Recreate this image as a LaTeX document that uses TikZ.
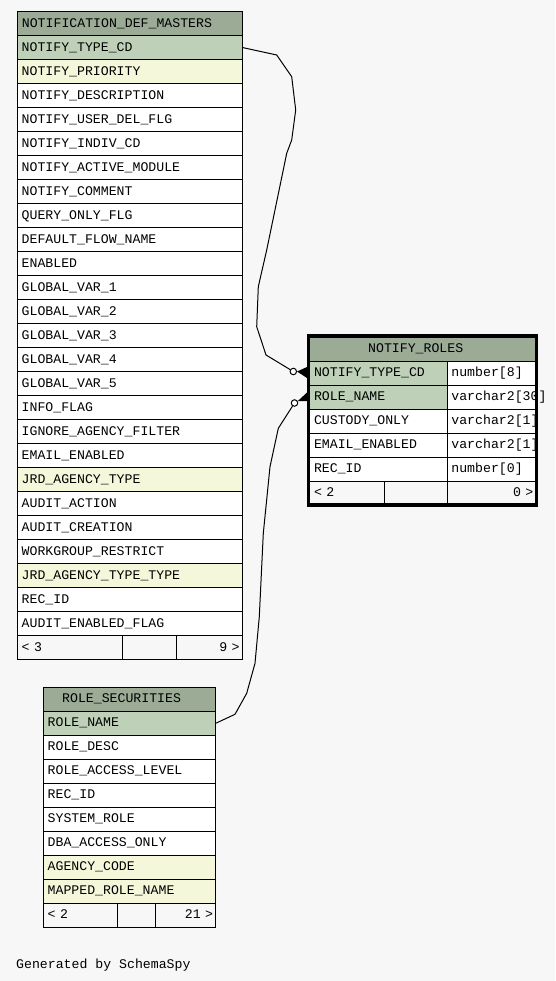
\documentclass[tikz,border=0pt]{standalone}
\usepackage{fontspec}
\usepackage{xcolor}
\usetikzlibrary{positioning,fit,calc}
\newfontfamily\erdmono{Liberation Mono}
\newcommand\erdtext{\erdmono\fontsize{13.2pt}{15pt}\selectfont}
\definecolor{bggray}{HTML}{F7F7F7}
\definecolor{hdrgreen}{HTML}{9BAB96}
\definecolor{pkgreen}{HTML}{BED1B8}
\definecolor{idxyellow}{HTML}{F4F7DA}

\begin{document}
\begin{tikzpicture}[
  x=1pt, y=-1pt, font=\erdtext,
  cell/.style={draw, line width=1pt, anchor=north west, outer sep=0pt,
               minimum height=24pt, inner ysep=0pt, inner xsep=4.4pt,
               align=left, text height=9.8pt, text depth=2.6pt},
  hdr/.style={cell, fill=hdrgreen},
  pk/.style={cell, fill=pkgreen},
  idx/.style={cell, fill=idxyellow},
  std/.style={cell, fill=white},
  foot/.style={cell, fill=bggray},
  footr/.style={foot, align=right, inner xsep=2.7pt},
  ttl/.style={anchor=west, inner sep=0pt, text height=9.8pt, text depth=2.6pt},
  odot/.style={circle, draw, fill=white, line width=1pt, inner sep=0pt,
               minimum size=6.5pt},
  link/.style={line width=1pt}
]
\useasboundingbox (0,0) rectangle (555,981);
\fill[bggray] (0,0) rectangle (555,981);

% --- NOTIFICATION_DEF_MASTERS ------------------------------------------
\node[hdr, minimum width=225pt] (ndm-h) at (17.3,11.5) {};
\node[ttl] (ndm-title) at ($(ndm-h.west)+(4.4,0)$) {NOTIFICATION\_DEF\_MASTERS};
\foreach \col/\kind [count=\i] in {
    NOTIFY\_TYPE\_CD/pk, NOTIFY\_PRIORITY/idx, NOTIFY\_DESCRIPTION/std,
    NOTIFY\_USER\_DEL\_FLG/std, NOTIFY\_INDIV\_CD/std, NOTIFY\_ACTIVE\_MODULE/std,
    NOTIFY\_COMMENT/std, QUERY\_ONLY\_FLG/std, DEFAULT\_FLOW\_NAME/std,
    ENABLED/std, GLOBAL\_VAR\_1/std, GLOBAL\_VAR\_2/std, GLOBAL\_VAR\_3/std,
    GLOBAL\_VAR\_4/std, GLOBAL\_VAR\_5/std, INFO\_FLAG/std,
    IGNORE\_AGENCY\_FILTER/std, EMAIL\_ENABLED/std, JRD\_AGENCY\_TYPE/idx,
    AUDIT\_ACTION/std, AUDIT\_CREATION/std, WORKGROUP\_RESTRICT/std,
    JRD\_AGENCY\_TYPE\_TYPE/idx, REC\_ID/std, AUDIT\_ENABLED\_FLAG/std}{%
  \node[\kind, text width=216.2pt] (ndm-\i) at (17.3, 11.5+24*\i) {\col};
}
\node[foot, text width=95.9pt] (ndm-f1) at (17.3,635.5) {< 3};
\node[foot, minimum width=54pt, right=0pt of ndm-f1] (ndm-f2) {};
\node[footr, text width=60.9pt, right=0pt of ndm-f2] (ndm-f3) {9 >};

% --- ROLE_SECURITIES ---------------------------------------------------
\node[hdr, minimum width=172.4pt] (rs-h) at (43.3,687.3) {};
\node[ttl] (rs-title) at ($(rs-h.west)+(18.7,0)$) {ROLE\_SECURITIES};
\foreach \col/\kind [count=\i] in {
    ROLE\_NAME/pk, ROLE\_DESC/std, ROLE\_ACCESS\_LEVEL/std, REC\_ID/std,
    SYSTEM\_ROLE/std, DBA\_ACCESS\_ONLY/std, AGENCY\_CODE/idx,
    MAPPED\_ROLE\_NAME/idx}{%
  \node[\kind, text width=163.6pt] (rs-\i) at (43.3, 687.3+24*\i) {\col};
}
\node[foot, text width=65.2pt] (rs-f1) at (43.3,903.3) {< 2};
\node[foot, minimum width=38pt, right=0pt of rs-f1] (rs-f2) {};
\node[footr, text width=55pt, right=0pt of rs-f2] (rs-f3) {21 >};

% --- NOTIFY_ROLES (selected table) -------------------------------------
\node[hdr, minimum width=227.8pt, minimum height=25pt] (nr-h) at (308.5,336) {};
\node[ttl] (nr-title) at ($(nr-h.west)+(59.5,0)$) {NOTIFY\_ROLES};
\foreach \col/\ctype/\kind [count=\i] in {
    NOTIFY\_TYPE\_CD/number[8]/pk, ROLE\_NAME/varchar2[30]/pk,
    CUSTODY\_ONLY/varchar2[1]/std, EMAIL\_ENABLED/varchar2[1]/std,
    REC\_ID/number[0]/std}{%
  \node[\kind, inner xsep=5.5pt, text width=127.5pt] (nr-\i) at (308.5, 337+24*\i) {\col};
  \node[std, text width=80.5pt, right=0pt of nr-\i] (nr-t\i) {\ctype};
}
\node[foot, inner xsep=5.5pt, text width=64.5pt] (nr-f1) at (308.5,481) {< 2};
\node[foot, minimum width=63pt, right=0pt of nr-f1] (nr-f2) {};
\node[footr, inner xsep=3pt, text width=83.3pt, right=0pt of nr-f2] (nr-f3) {0 >};

% --- relationships -----------------------------------------------------
\node[odot] (o1) at (293.3,371.5) {};
\node[odot] (o2) at (294.5,403) {};
\draw[link] (ndm-1.east) -- (276.7,55) -- (291.7,76.7) -- (295.7,110)
  -- (291.7,140) -- (286.7,153.3) -- (266.7,250) -- (258.3,286.7)
  -- (256.7,326.7) -- (266,355) -- (o1);
\draw[link] (rs-1.east) -- (235,714.3) -- (246.7,693.3) -- (255,663.3)
  -- (259.3,616.7) -- (263.3,533.3) -- (270,466.7) -- (278.3,428.3) -- (o2);
\fill (o1.east) -- ($(nr-1.west)+(-1.5,-6)$) -- ($(nr-1.west)+(-1.5,5)$) -- cycle;
\fill (o2.30) -- ($(nr-2.west)+(-1.5,-4.5)$) -- ($(nr-2.west)+(-1.5,4)$) -- cycle;

% --- thick frame on top ------------------------------------------------
\node[fit=(nr-h)(nr-f3), draw, line width=3.3pt, inner sep=0pt] (nr-frame) {};

\node[anchor=base west, inner sep=0pt] (credit) at (16,968) {Generated by SchemaSpy};
\end{tikzpicture}
\end{document}
